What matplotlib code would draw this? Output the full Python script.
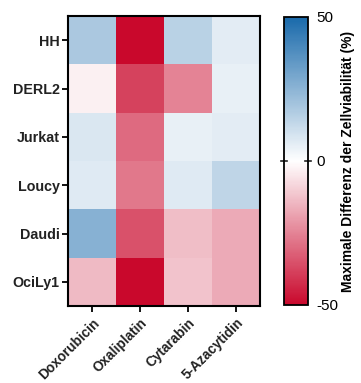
import numpy as np
import matplotlib
matplotlib.use('Agg')
import matplotlib.pyplot as plt
from matplotlib.colors import LinearSegmentedColormap

cell_lines = ['HH', 'DERL2', 'Jurkat', 'Loucy', 'Daudi', 'OciLy1']
drugs = ['Doxorubicin', 'Oxaliplatin', 'Cytarabin', '5-Azacytidin']

# max difference in cell viability (%), rows = cell lines, cols = drugs
doxorubicin = [18, -3, 8, 7, 26, -14]
oxaliplatin = [-50, -38, -30, -27, -35, -50]
cytarabin = [15, -25, 5, 7, -13, -12]
azacytidin = [6, 5, 6, 14, -17, -17]


def main():
    plt.rcParams['font.family'] = ['Liberation Sans', 'DejaVu Sans']
    data = np.array([doxorubicin, oxaliplatin, cytarabin, azacytidin]).T

    cmap = LinearSegmentedColormap.from_list(
        'rwb', ['#c9082c', '#ffffff', '#1a6aab'])

    fig = plt.figure(figsize=(3.61, 3.83), dpi=100)
    ax = fig.add_axes([68 / 361, 1 - 306 / 383, 192 / 361, 290 / 383])
    cax = fig.add_axes([284 / 361, 1 - 305 / 383, 24 / 361, 288 / 383])

    im = ax.imshow(data, cmap=cmap, vmin=-50, vmax=50, aspect='auto')

    ax.set_xticks(range(len(drugs)))
    ax.set_xticklabels(drugs, rotation=45, ha='right', rotation_mode='anchor',
                       fontsize=9.8, fontweight='bold', color='#222222')
    ax.set_yticks(range(len(cell_lines)))
    ax.set_yticklabels(cell_lines, fontsize=10.3, fontweight='bold',
                       color='#222222')
    ax.tick_params(length=4, width=1.3, direction='out', pad=2)
    ax.tick_params(axis='x', pad=3)
    for s in ax.spines.values():
        s.set_linewidth(1.5)

    cb = fig.colorbar(im, cax=cax, ticks=[-50, 0, 50])
    cb.outline.set_linewidth(1.3)
    cax.tick_params(length=0, pad=6)
    cax.set_yticklabels(['-50', '0', '50'], fontsize=11, stretch='condensed')
    tr = cax.get_yaxis_transform()
    cax.plot([-0.12, 0.12], [0, 0], color='#222222', lw=1.2, transform=tr, clip_on=False)
    cax.plot([0.88, 1.12], [0, 0], color='#222222', lw=1.2, transform=tr, clip_on=False)
    cb.set_label('Maximale Differenz der Zellviabilität (%)', fontsize=10,
                 fontweight='bold', labelpad=2)

    fig.savefig('out.png', dpi=100)


if __name__ == '__main__':
    main()
